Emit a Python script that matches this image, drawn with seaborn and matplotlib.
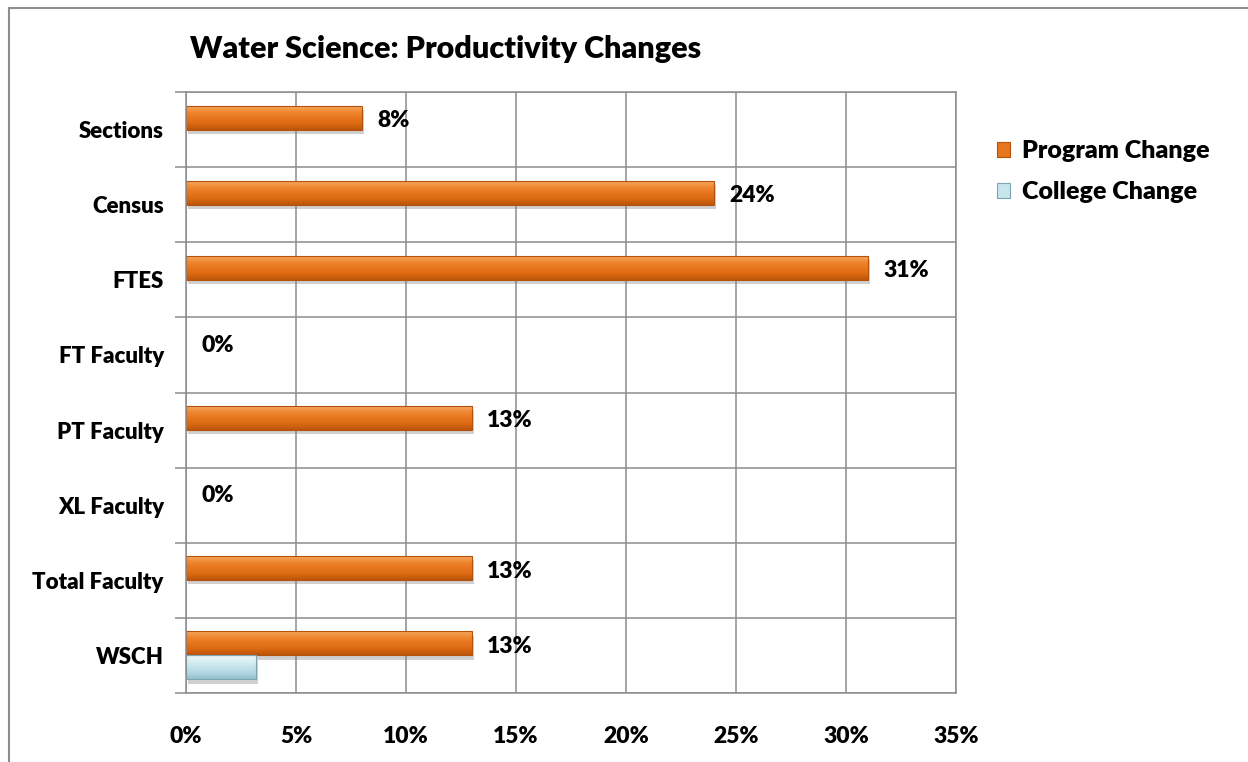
import numpy as np
import pandas as pd
import matplotlib
matplotlib.use("Agg")
import matplotlib.pyplot as plt
import matplotlib.patheffects as pe
from matplotlib.colors import LinearSegmentedColormap
from matplotlib.patches import Rectangle
from matplotlib.ticker import PercentFormatter, FixedLocator
import seaborn as sns

# --- data -------------------------------------------------------------
categories = ["Sections", "Census", "FTES", "FT Faculty", "PT Faculty",
              "XL Faculty", "Total Faculty", "WSCH"]
series_names = ["Program Change", "College Change"]
program_change = [0.08, 0.24, 0.31, 0.00, 0.13, 0.00, 0.13, 0.13]
college_change = [np.nan, np.nan, np.nan, np.nan, np.nan, np.nan, np.nan, 0.032]
x_ticks = [0.00, 0.05, 0.10, 0.15, 0.20, 0.25, 0.30, 0.35]
title = "Water Science: Productivity Changes"

df = pd.DataFrame({
    "Measure": categories * 2,
    "Series": [series_names[0]] * len(categories) + [series_names[1]] * len(categories),
    "Change": program_change + college_change,
})

# --- style ------------------------------------------------------------
sns.set_theme(style="white")
plt.rcParams["font.family"] = ["Lato", "DejaVu Sans"]
plt.rcParams["text.color"] = "black"

WEIGHT = "heavy"
GRID = "#8c8c8c"
W, H = 1248, 762
fig = plt.figure(figsize=(W / 100, H / 100), dpi=100)
fig.patch.set_facecolor("white")
ax = fig.add_axes([186 / W, 69 / H, 770 / W, 601 / H])

palette = {"Program Change": "#E8761E", "College Change": "#B9DDE7"}
sns.barplot(data=df, x="Change", y="Measure", hue="Series",
            order=categories, hue_order=series_names, palette=palette,
            orient="h", width=0.64, saturation=1, linewidth=0, ax=ax)

xlim = (0, 0.35)
ylim = (len(categories) - 0.5, -0.5)

# glossy gradient fill, outline and soft drop shadow on every bar
shades = {
    0: (["#F6AE6C", "#F08A34", "#E8761E", "#DC6A12", "#BA550B"], "#B5520C"),
    1: (["#F2FAFC", "#DDF0F5", "#C6E5ED", "#B2D8E3", "#94C0CE"], "#7FA5B3"),
}
for i, container in enumerate(ax.containers):
    colors, edge = shades[i]
    cmap = LinearSegmentedColormap.from_list(f"bar{i}", colors)
    grad = np.linspace(0, 1, 64).reshape(-1, 1)
    for bar in container:
        w = bar.get_width()
        if not np.isfinite(w) or w <= 0:
            continue
        x0, y0, h = bar.get_x(), bar.get_y(), bar.get_height()
        bar.set_path_effects([pe.SimplePatchShadow(offset=(1.5, -3),
                                                   shadow_rgbFace="#7a7a7a",
                                                   alpha=0.35),
                              pe.Normal()])
        im = ax.imshow(grad, cmap=cmap, extent=(x0, x0 + w, y0 + h, y0),
                       origin="upper", aspect="auto", interpolation="bicubic",
                       zorder=bar.get_zorder() + 0.01)
        im.set_clip_path(bar)
        ax.add_patch(Rectangle((x0, y0), w, h, fill=False, edgecolor=edge,
                               linewidth=0.8, zorder=bar.get_zorder() + 0.02))

ax.set_xlim(*xlim)
ax.set_ylim(*ylim)

# value labels for the program series
for bar, v in zip(ax.containers[0], program_change):
    yc = bar.get_y() + bar.get_height() / 2
    ax.annotate(f"{v:.0%}", xy=(v, yc), xytext=(11, -2),
                textcoords="offset points", va="center", ha="left",
                fontsize=16.5, fontweight=WEIGHT, color="black")

# axes, grid and ticks
ax.set_xlabel("")
ax.set_ylabel("")
ax.xaxis.set_major_locator(FixedLocator(x_ticks))
ax.xaxis.set_major_formatter(PercentFormatter(1.0, decimals=0))
ax.yaxis.set_minor_locator(FixedLocator(np.arange(-0.5, len(categories), 1.0)))
ax.grid(False)
ax.grid(axis="x", which="major", color=GRID, linewidth=1.1)
ax.grid(axis="y", which="minor", color=GRID, linewidth=1.1)
ax.set_axisbelow(True)
ax.tick_params(axis="x", which="major", length=0, pad=24, labelsize=16.5,
               labelcolor="black")
ax.tick_params(axis="y", which="major", length=0, pad=16, labelsize=16,
               labelcolor="black")
ax.tick_params(axis="y", which="minor", left=True, length=8, width=1.1,
               color=GRID, direction="out")
for lbl in ax.get_xticklabels() + ax.get_yticklabels():
    lbl.set_fontweight(WEIGHT)
for side in ["left", "right", "top", "bottom"]:
    ax.spines[side].set_visible(True)
    ax.spines[side].set_color(GRID)
    ax.spines[side].set_linewidth(1.1)

# legend
sns.move_legend(ax, "upper left", bbox_to_anchor=(974 / W, 1 - 118 / H),
                bbox_transform=fig.transFigure, frameon=False, title=None,
                fontsize=18, handlelength=0.55, handleheight=0.55,
                handletextpad=0.45, labelspacing=0.75)
leg = ax.get_legend()
for t in leg.get_texts():
    t.set_fontweight(WEIGHT)
for hnd, (colors, edge) in zip(leg.legend_handles, shades.values()):
    hnd.set_facecolor(colors[2])
    hnd.set_edgecolor(edge)
    hnd.set_linewidth(0.8)

# title
fig.text(190 / W, 1 - 58 / H, title, fontsize=22, fontweight=WEIGHT,
         ha="left", va="baseline", color="black")

# chart border
fig.patches.append(Rectangle((9 / W, -0.1), 1.2, 1.1 - 8 / H,
                             transform=fig.transFigure, fill=False,
                             edgecolor="#8c8c8c", linewidth=1.5))

fig.savefig("out.png", dpi=100, facecolor="white")
